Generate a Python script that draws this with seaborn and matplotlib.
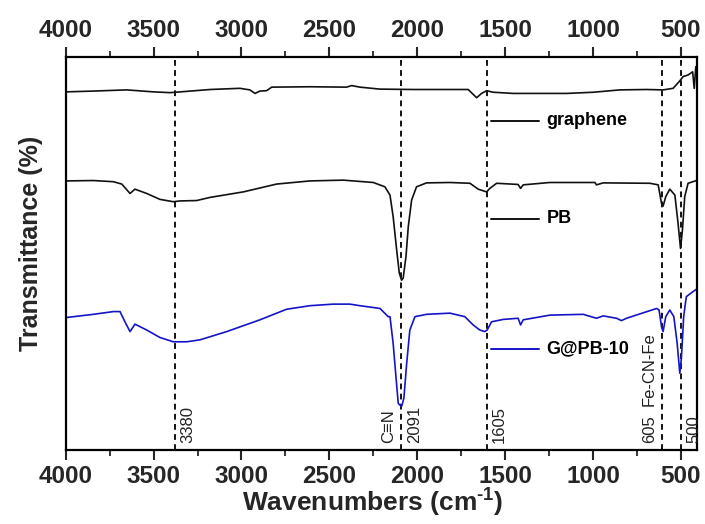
import matplotlib
matplotlib.use("Agg")
import matplotlib.pyplot as plt
import matplotlib.transforms as mtransforms
from matplotlib.ticker import MultipleLocator, NullLocator
import pandas as pd
import seaborn as sns

# FTIR spectra, stacked: wavenumber (cm-1) and transmittance (a.u.)
graphene_wn = [3994, 3843, 3653, 3502, 3407, 3346, 3179, 3009, 2952, 2923, 2895,
               2857, 2828, 2610, 2402, 2373, 2326, 2213, 2023, 1833, 1710, 1662,
               1634, 1605, 1568, 1454, 1302, 1150, 999, 847, 695, 601, 544, 506,
               487, 459, 433, 424, 415]
graphene_t = [91.2, 91.4, 91.7, 91.2, 91.0, 91.2, 91.8, 92.1, 91.7, 90.8, 91.4,
              91.5, 92.4, 92.5, 92.4, 92.8, 92.4, 91.9, 91.8, 91.8, 91.8, 89.7,
              90.8, 91.5, 91.1, 90.8, 90.8, 90.8, 91.1, 91.7, 91.8, 91.7, 92.1, 94.0,
              95.1, 95.5, 96.3, 92.1, 97.6]

pb_wn = [3994, 3843, 3729, 3681, 3634, 3606, 3539, 3464, 3388, 3350, 3255, 3179,
         2990, 2800, 2610, 2421, 2250, 2184, 2155, 2137, 2117, 2102, 2089, 2080,
         2064, 2051, 2032, 2004, 1947, 1814, 1700, 1653, 1605, 1587, 1548, 1426,
         1412, 1397, 1245, 989, 980, 942, 676, 629, 610, 601, 586, 563, 534, 516,
         502, 491, 478, 459, 411]
pb_t = [68.5, 68.6, 68.3, 67.7, 65.3, 66.4, 65.3, 63.8, 63.2, 63.4, 63.5, 64.3,
        65.7, 67.7, 68.5, 68.7, 68.1, 67.0, 64.9, 59.4, 50.9, 45.0, 43.2, 43.7,
        49.2, 56.8, 63.6, 67.0, 68.0, 68.1, 67.9, 66.4, 65.7, 66.6, 67.9, 67.6,
        66.6, 67.5, 68.1, 68.1, 67.5, 68.0, 67.9, 67.5, 62.8, 62.1, 64.5, 66.4,
        64.9, 57.7, 51.3, 56.0, 64.5, 67.9, 68.6]

gpb_wn = [3994, 3843, 3729, 3691, 3663, 3634, 3606, 3539, 3464, 3388, 3312, 3236,
          3084, 2895, 2743, 2610, 2478, 2383, 2326, 2212, 2165, 2155, 2137, 2121,
          2108, 2089, 2076, 2060, 2042, 2013, 1947, 1814, 1729, 1682, 1644, 1615,
          1602, 1577, 1511, 1426, 1412, 1397, 1245, 1056, 980, 942, 866, 838, 809,
          638, 624, 610, 601, 586, 563, 540, 521, 506, 497, 484, 469, 440, 411]
gpb_t = [33.7, 34.5, 35.2, 35.2, 32.6, 30.1, 32.0, 30.5, 28.6, 27.5, 27.5, 28.0,
         30.1, 33.1, 35.8, 36.7, 37.1, 37.1, 36.7, 36.0, 33.9, 33.9, 27.1, 18.6,
         11.8, 11.0, 13.1, 22.0, 30.5, 33.9, 34.5, 34.8, 33.9, 31.8, 30.5, 30.1,
         30.5, 32.6, 33.2, 33.5, 31.8, 33.1, 34.3, 34.5, 33.5, 34.1, 33.5, 32.9, 33.5,
         36.0, 35.6, 31.3, 30.1, 33.9, 35.6, 33.9, 27.1, 19.5, 23.3, 33.9, 39.0, 40.0, 40.9]

series_names = ["graphene", "PB", "G@PB-10"]
series_colors = ["#111111", "#111111", "#1414c8"]

# marked bands: position, value label, optional assignment
band_wn = [3380, 2091, 1605, 605, 500]
band_text = ["3380", "2091", "1605", "605", "500"]
band_side = ["right", "right", "right", "left", "right"]
assign_wn = [2091, 605]
assign_text = ["C\u2261N", "Fe-CN-Fe"]

x_ticks = [4000, 3500, 3000, 2500, 2000, 1500, 1000, 500]

df = pd.concat([
    pd.DataFrame({"wn": graphene_wn, "T": graphene_t, "sample": "graphene"}),
    pd.DataFrame({"wn": pb_wn, "T": pb_t, "sample": "PB"}),
    pd.DataFrame({"wn": gpb_wn, "T": gpb_t, "sample": "G@PB-10"}),
])

sns.set_style("ticks")
plt.rcParams["font.family"] = ["Liberation Sans", "DejaVu Sans"]
plt.rcParams["mathtext.fontset"] = "custom"
plt.rcParams["mathtext.rm"] = "Liberation Sans:bold"
plt.rcParams["mathtext.bf"] = "Liberation Sans:bold"
plt.rcParams["mathtext.default"] = "bf"

fig = plt.figure(figsize=(7.05, 5.24), dpi=100)
ax = fig.add_axes([0.0932, 0.1418, 0.895, 0.7488])

sns.lineplot(data=df, x="wn", y="T", hue="sample", hue_order=series_names,
             palette=dict(zip(series_names, series_colors)), estimator=None,
             sort=False, linewidth=1.2, legend=False, ax=ax)

ax.set_xlim(4000, 410)
ax.set_ylim(0, 100)

# dashed band markers with rotated labels
trans = mtransforms.blended_transform_factory(ax.transData, ax.transAxes)
for wn, txt, side in zip(band_wn, band_text, band_side):
    ax.axvline(wn, color="black", linestyle=(0, (3.2, 2.4)), linewidth=1.3, zorder=1)
    dx = 4 if side == "right" else -4
    ax.annotate(txt, xy=(wn, 0.018), xycoords=trans, xytext=(dx, 0),
                textcoords="offset points", rotation=90, fontsize=12,
                color="#222222", ha="left" if side == "right" else "right",
                va="bottom")
for wn, txt in zip(assign_wn, assign_text):
    y0 = 0.018 if txt.startswith("C") else 0.112
    ax.annotate(txt, xy=(wn, y0), xycoords=trans, xytext=(-4, 0),
                textcoords="offset points", rotation=90, fontsize=12,
                color="#222222", ha="right", va="bottom")

# inline sample labels
label_y = [0.838, 0.588, 0.257]
for name, color, y in zip(series_names, series_colors, label_y):
    ax.plot([0.674, 0.750], [y, y], color=color, linewidth=1.4,
            transform=ax.transAxes)
    ax.text(0.762, y, name, transform=ax.transAxes, fontsize=13,
            fontweight="bold", va="center", ha="left", color="black")

ax.xaxis.set_minor_locator(MultipleLocator(250))
ax.set_xticks(x_ticks)
ax.set_xticklabels([str(t) for t in x_ticks])
ax.yaxis.set_major_locator(NullLocator())
ax.tick_params(axis="x", which="major", direction="out", length=7.5, width=1.5,
               labelsize=17.5, pad=3.5, top=True, labeltop=True)
ax.tick_params(axis="x", which="minor", direction="out", length=4, width=1.3,
               top=True)
for t in ax.xaxis.get_major_ticks():
    t.label1.set_fontweight("bold")
    t.label2.set_fontweight("bold")

for sp in ax.spines.values():
    sp.set_visible(True)
    sp.set_linewidth(1.6)
    sp.set_color("black")

ax.set_xlabel("Wavenumbers (cm$^{\\text{-1}}$)", fontsize=19, fontweight="bold")
ax.xaxis.set_label_coords(0.486, -0.095)
ax.set_ylabel("Transmittance (%)", fontsize=18, fontweight="bold")
ax.yaxis.set_label_coords(-0.036, 0.527)

fig.savefig("out.png", dpi=100)
